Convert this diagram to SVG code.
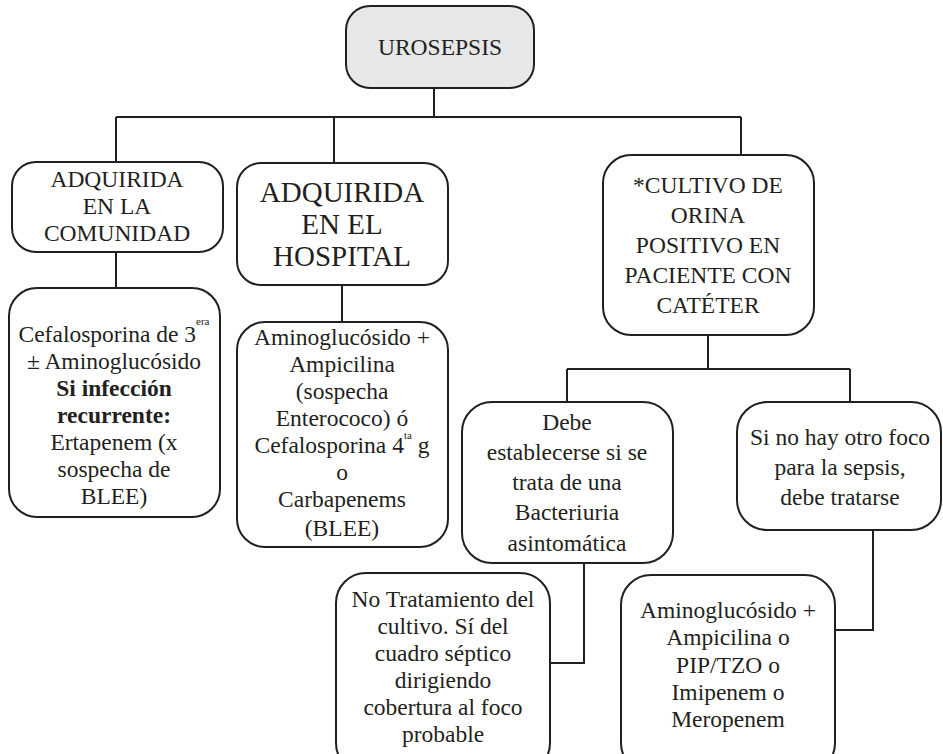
<svg xmlns="http://www.w3.org/2000/svg" width="943" height="754" viewBox="0 0 943 754">
<style>
.box{fill:#ffffff;stroke:#231f20;stroke-width:2}
.root{fill:#e6e7e8;stroke:#231f20;stroke-width:2}
.t{font-family:'Liberation Serif','DejaVu Serif',serif;font-size:23.5px;fill:#231f20;text-anchor:middle}
.big{font-size:29px}
.b{font-weight:bold}
.sup{font-size:11px}
.c{fill:none;stroke:#231f20;stroke-width:2}
</style>
<rect x="0" y="0" width="943" height="754" fill="#ffffff"/>
<g id="connectors">
<path class="c" d="M434 88V117M116 117H741M116 117V162M334 117V163M741 117V163"/>
<path class="c" d="M116 252V288"/>
<path class="c" d="M342 285V322"/>
<path class="c" d="M708 335V369M567 369H850M567 369V402M850 369V402"/>
<path class="c" d="M584 563V663H550"/>
<path class="c" d="M873 530V630H835"/>
</g>
<g id="root">
<rect class="root" x="346" y="6" width="188" height="82" rx="24"/>
<text class="t" x="440" y="55">UROSEPSIS</text>
</g>
<g id="comunidad">
<rect class="box" x="12" y="162" width="211" height="90" rx="24"/>
<text class="t" x="117" y="187">ADQUIRIDA</text>
<text class="t" x="117" y="214">EN LA</text>
<text class="t" x="117" y="241">COMUNIDAD</text>
</g>
<g id="hospital">
<rect class="box" x="237" y="163" width="211" height="122" rx="24"/>
<text class="t big" x="342" y="202">ADQUIRIDA</text>
<text class="t big" x="342" y="234">EN EL</text>
<text class="t big" x="342" y="266">HOSPITAL</text>
</g>
<g id="cultivo">
<rect class="box" x="603" y="155" width="211" height="180" rx="28"/>
<text class="t" x="708" y="193">*CULTIVO DE</text>
<text class="t" x="708" y="223">ORINA</text>
<text class="t" x="708" y="253">POSITIVO EN</text>
<text class="t" x="708" y="283">PACIENTE CON</text>
<text class="t" x="708" y="313">CATÉTER</text>
</g>
<g id="tratamiento-comunidad">
<rect class="box" x="9" y="288" width="211" height="229" rx="28"/>
<text class="t" x="114" y="342">Cefalosporina de 3<tspan class="sup" dy="-17">era</tspan></text>
<text class="t" x="114" y="369">± Aminoglucósido</text>
<text class="t b" x="114" y="396">Si infección</text>
<text class="t b" x="114" y="423">recurrente:</text>
<text class="t" x="114" y="450">Ertapenem (x</text>
<text class="t" x="114" y="477">sospecha de</text>
<text class="t" x="114" y="504">BLEE)</text>
</g>
<g id="tratamiento-hospital">
<rect class="box" x="237" y="322" width="211" height="225" rx="28"/>
<text class="t" x="342" y="345">Aminoglucósido +</text>
<text class="t" x="342" y="372">Ampicilina</text>
<text class="t" x="342" y="399">(sospecha</text>
<text class="t" x="342" y="426">Enterococo) ó</text>
<text class="t" x="342" y="453">Cefalosporina 4<tspan class="sup" dy="-14">ta</tspan><tspan dy="14"> g</tspan></text>
<text class="t" x="342" y="480">o</text>
<text class="t" x="342" y="507">Carbapenems</text>
<text class="t" x="342" y="536">(BLEE)</text>
</g>
<g id="bacteriuria">
<rect class="box" x="462" y="402" width="211" height="161" rx="30"/>
<text class="t" x="567" y="430">Debe</text>
<text class="t" x="567" y="460">establecerse si se</text>
<text class="t" x="567" y="490">trata de una</text>
<text class="t" x="567" y="520">Bacteriuria</text>
<text class="t" x="567" y="551">asintomática</text>
</g>
<g id="otro-foco">
<rect class="box" x="737" y="402" width="204" height="128" rx="30"/>
<text class="t" x="840" y="445">Si no hay otro foco</text>
<text class="t" x="840" y="475">para la sepsis,</text>
<text class="t" x="840" y="505">debe tratarse</text>
</g>
<g id="no-tratamiento">
<rect class="box" x="336" y="573" width="214" height="200" rx="30"/>
<text class="t" x="443" y="607">No Tratamiento del</text>
<text class="t" x="443" y="634">cultivo. Sí del</text>
<text class="t" x="443" y="661">cuadro séptico</text>
<text class="t" x="443" y="688">dirigiendo</text>
<text class="t" x="443" y="715">cobertura al foco</text>
<text class="t" x="443" y="742">probable</text>
</g>
<g id="antibioticos">
<rect class="box" x="621" y="575" width="214" height="198" rx="30"/>
<text class="t" x="728" y="618">Aminoglucósido +</text>
<text class="t" x="728" y="645">Ampicilina o</text>
<text class="t" x="728" y="673">PIP/TZO o</text>
<text class="t" x="728" y="700">Imipenem o</text>
<text class="t" x="728" y="727">Meropenem</text>
</g>
</svg>
